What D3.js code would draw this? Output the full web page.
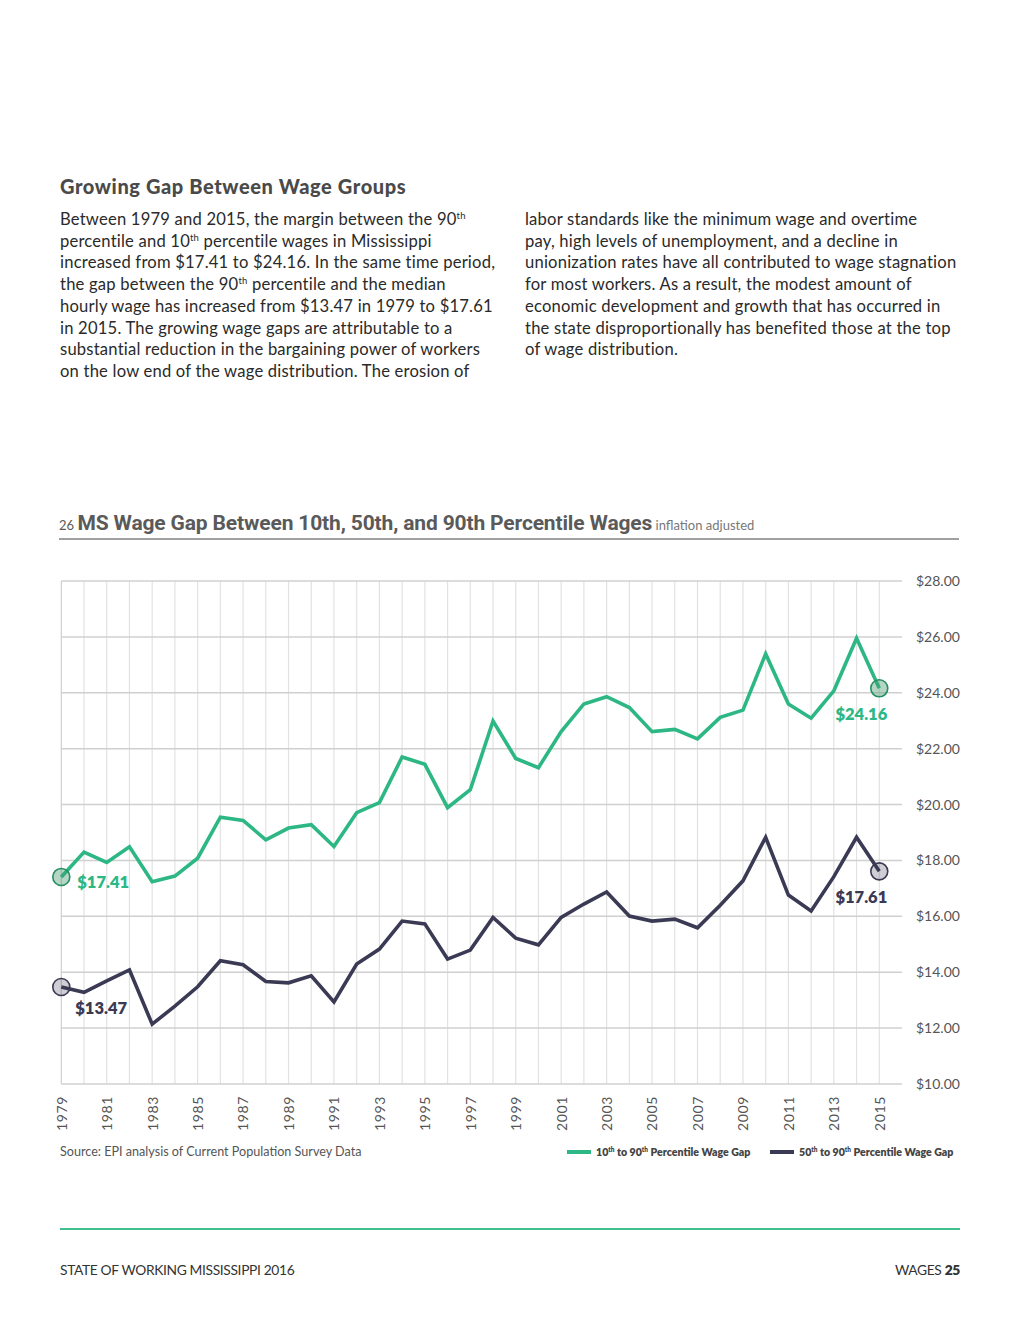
<!DOCTYPE html>
<html>
<head>
<meta charset="utf-8">
<script src="https://cdn.jsdelivr.net/npm/d3@7.9.0/dist/d3.min.js"></script>
<style>
  html, body { margin: 0; padding: 0; background: #fff; }
  svg { display: block; }
  text { font-family: Lato, "Open Sans", sans-serif; }
</style>
</head>
<body>
<svg id="page" width="1020" height="1320"></svg>
<script>
// Data
const years = d3.range(1979, 2016);
const gap10to90 = [17.41, 18.30, 17.93, 18.49, 17.24, 17.44, 18.08, 19.55, 19.43, 18.74,
                   19.16, 19.28, 18.50, 19.71, 20.07, 21.70, 21.44, 19.89, 20.53, 22.99,
                   21.65, 21.32, 22.61, 23.60, 23.86, 23.47, 22.61, 22.69, 22.35, 23.12,
                   23.38, 25.39, 23.60, 23.09, 24.07, 25.95, 24.16];
const gap50to90 = [13.47, 13.28, 13.69, 14.08, 12.14, 12.79, 13.48, 14.41, 14.27, 13.67,
                   13.62, 13.87, 12.94, 14.29, 14.83, 15.83, 15.73, 14.47, 14.79, 15.96,
                   15.22, 14.98, 15.96, 16.44, 16.87, 16.01, 15.83, 15.90, 15.59, 16.40,
                   17.27, 18.83, 16.76, 16.19, 17.42, 18.83, 17.61];
const yTicks = [10, 12, 14, 16, 18, 20, 22, 24, 26, 28];
const xLabelYears = years.filter(y => y % 2 === 1);
const seriesNames = ["10th to 90th Percentile Wage Gap", "50th to 90th Percentile Wage Gap"];

const green = "#2db784";
const navy = "#3b3a54";
const grey = "#555";

const svg = d3.select("#page");

// ---- heading + body copy ----
svg.append("text")
  .attr("x", 60).attr("y", 194)
  .attr("font-size", 20).attr("font-weight", 900).attr("fill", "#4a4a4a")
  .attr("letter-spacing", 0.6)
  .text("Growing Gap Between Wage Groups");

// each line is an array of [text, isSuperscript]
const leftCol = [
  [["Between 1979 and 2015, the margin between the 90", 0], ["th", 1]],
  [["percentile and 10", 0], ["th", 1], [" percentile wages in Mississippi", 0]],
  [["increased from $17.41 to $24.16. In the same time period,", 0]],
  [["the gap between the 90", 0], ["th", 1], [" percentile and the median", 0]],
  [["hourly wage has increased from $13.47 in 1979 to $17.61", 0]],
  [["in 2015. The growing wage gaps are attributable to a", 0]],
  [["substantial reduction in the bargaining power of workers", 0]],
  [["on the low end of the wage distribution. The erosion of", 0]]
];
const rightCol = [
  [["labor standards like the minimum wage and overtime", 0]],
  [["pay, high levels of unemployment, and a decline in", 0]],
  [["unionization rates have all contributed to wage stagnation", 0]],
  [["for most workers. As a result, the modest amount of", 0]],
  [["economic development and growth that has occurred in", 0]],
  [["the state disproportionally has benefited those at the top", 0]],
  [["of wage distribution.", 0]]
];

function writeColumn(lines, x, y0) {
  lines.forEach((parts, i) => {
    const t = svg.append("text")
      .attr("x", x).attr("y", y0 + i * 21.7)
      .attr("font-size", 16.6).attr("letter-spacing", 0.2).attr("fill", "#2a2a2a");
    parts.forEach(([s, sup]) => {
      const sp = t.append("tspan").text(s);
      if (sup) sp.attr("font-size", 9.5).attr("dy", -6);
      else if (sp.node().previousSibling) sp.attr("dy", 6);
    });
  });
}
writeColumn(leftCol, 60, 225);
writeColumn(rightCol, 525, 225);

// ---- chart title ----
const title = svg.append("text").attr("x", 59).attr("y", 530).attr("fill", "#5a5a5a");
title.append("tspan").attr("font-size", 13).text("26 ");
title.append("tspan")
  .attr("font-family", "'Liberation Sans Narrow', 'Roboto', sans-serif")
  .attr("font-size", 21).attr("font-weight", 700)
  .attr("letter-spacing", -0.15)
  .text("MS Wage Gap Between 10th, 50th, and 90th Percentile Wages");
title.append("tspan").attr("font-size", 13).attr("fill", "#777").text(" inflation adjusted");

svg.append("line")
  .attr("x1", 59).attr("x2", 959).attr("y1", 539).attr("y2", 539)
  .attr("stroke", "#a0a0a0").attr("stroke-width", 2);

// ---- scales ----
const x = d3.scaleLinear().domain([1979, 2016]).range([61.3, 902]);
const y = d3.scaleLinear().domain([10, 28]).range([1084, 581]);

// grid
const grid = svg.append("g");
grid.selectAll("line.v")
  .data(years)
  .join("line")
  .attr("class", "v")
  .attr("x1", d => x(d)).attr("x2", d => x(d))
  .attr("y1", y(28)).attr("y2", y(10))
  .attr("stroke", d => d === 1979 ? "#cfcfcf" : "#e2e2e2")
  .attr("stroke-width", 1.2);

const yAxis = d3.axisRight(y)
  .tickValues(yTicks)
  .tickSize(0)
  .tickPadding(14)
  .tickFormat(d => "$" + d3.format(".2f")(d));

svg.append("g")
  .attr("transform", `translate(${x(2016)},0)`)
  .call(yAxis)
  .call(g => g.select(".domain").remove())
  .call(g => g.selectAll("text")
    .attr("font-family", "Lato, sans-serif")
    .attr("font-size", 14).attr("fill", grey));

grid.selectAll("line.h")
  .data(yTicks)
  .join("line")
  .attr("class", "h")
  .attr("x1", x(1979)).attr("x2", x(2016))
  .attr("y1", d => y(d)).attr("y2", d => y(d))
  .attr("stroke", "#d0d0d0").attr("stroke-width", 1.5);

// x labels (rotated)
const xAxis = d3.axisBottom(x)
  .tickValues(xLabelYears)
  .tickSize(0)
  .tickFormat(d3.format("d"));

svg.append("g")
  .attr("transform", `translate(0,${y(10)})`)
  .call(xAxis)
  .call(g => g.select(".domain").remove())
  .call(g => g.selectAll("text")
    .attr("font-family", "Lato, sans-serif")
    .attr("font-size", 14).attr("letter-spacing", 0.6).attr("fill", grey)
    .attr("transform", "rotate(-90)")
    .attr("text-anchor", "end")
    .attr("x", -12).attr("y", 0).attr("dy", "0.35em"));

// ---- lines ----
const line = d3.line().x((d, i) => x(years[i])).y(d => y(d));

svg.append("path")
  .datum(gap10to90)
  .attr("d", line)
  .attr("fill", "none").attr("stroke", green)
  .attr("stroke-width", 3.6).attr("stroke-linejoin", "miter");

svg.append("path")
  .datum(gap50to90)
  .attr("d", line)
  .attr("fill", "none").attr("stroke", navy)
  .attr("stroke-width", 3.6).attr("stroke-linejoin", "miter");

// end point markers + labels
const last = years.length - 1;
const markers = [
  { yr: years[0], v: gap10to90[0], c: green, stroke: "#23905f", fill: "rgba(70,150,110,0.4)", dx: 16, dy: 11, anchor: "start" },
  { yr: years[last], v: gap10to90[last], c: green, stroke: "#23905f", fill: "rgba(70,150,110,0.4)", dx: 8, dy: 32, anchor: "end" },
  { yr: years[0], v: gap50to90[0], c: navy, stroke: navy, fill: "rgba(59,58,84,0.25)", dx: 14, dy: 27, anchor: "start" },
  { yr: years[last], v: gap50to90[last], c: navy, stroke: navy, fill: "rgba(59,58,84,0.25)", dx: 8, dy: 32, anchor: "end" }
];

markers.forEach(m => {
  svg.append("circle")
    .attr("cx", x(m.yr)).attr("cy", y(m.v)).attr("r", 8.5)
    .attr("fill", m.fill).attr("stroke", m.stroke).attr("stroke-width", 1.6);
  svg.append("text")
    .attr("x", x(m.yr) + m.dx).attr("y", y(m.v) + m.dy)
    .attr("text-anchor", m.anchor)
    .attr("font-size", 16.5).attr("font-weight", 800).attr("fill", m.c)
    .text("$" + m.v.toFixed(2));
});

// ---- source + legend ----
svg.append("text")
  .attr("x", 60).attr("y", 1156)
  .attr("font-size", 12.6).attr("fill", grey)
  .text("Source: EPI analysis of Current Population Survey Data");

const legendItems = [
  { x0: 567, c: green, pre: "10", rest: " to 90", tail: " Percentile Wage Gap" },
  { x0: 770, c: navy, pre: "50", rest: " to 90", tail: " Percentile Wage Gap" }
];
legendItems.forEach((d, i) => {
  svg.append("line")
    .attr("x1", d.x0).attr("x2", d.x0 + 24)
    .attr("y1", 1152).attr("y2", 1152)
    .attr("stroke", d.c).attr("stroke-width", 4);
  const t = svg.append("text")
    .attr("x", d.x0 + 29).attr("y", 1156)
    .attr("font-size", 10.6).attr("font-weight", 800).attr("fill", "#444");
  t.append("tspan").text(d.pre);
  t.append("tspan").attr("font-size", 6.5).attr("dy", -4).text("th");
  t.append("tspan").attr("dy", 4).text(d.rest);
  t.append("tspan").attr("font-size", 6.5).attr("dy", -4).text("th");
  t.append("tspan").attr("dy", 4).text(d.tail);
  t.append("title").text(seriesNames[i]);
});

// ---- footer ----
svg.append("line")
  .attr("x1", 60).attr("x2", 960).attr("y1", 1229).attr("y2", 1229)
  .attr("stroke", "#40bf8f").attr("stroke-width", 2);

svg.append("text")
  .attr("x", 60).attr("y", 1275)
  .attr("font-size", 13.8).attr("letter-spacing", -0.35).attr("fill", "#333")
  .text("STATE OF WORKING MISSISSIPPI 2016");

const pg = svg.append("text")
  .attr("x", 960).attr("y", 1275).attr("text-anchor", "end")
  .attr("font-size", 13.8).attr("letter-spacing", -0.35).attr("fill", "#333");
pg.append("tspan").text("WAGES ");
pg.append("tspan").attr("font-weight", 800).text("25");
</script>
</body>
</html>
